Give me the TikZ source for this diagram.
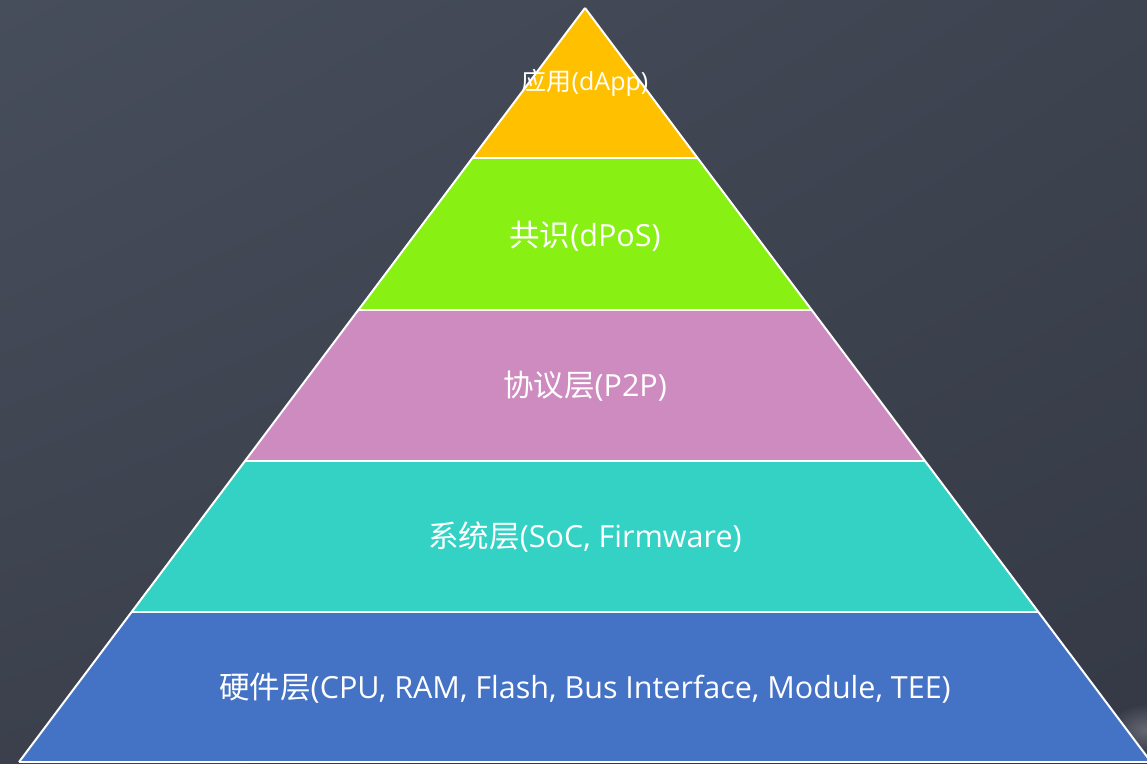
\documentclass[tikz,border=0pt]{standalone}
\usepackage{fontspec}
\setmainfont{Open Sans}
\newfontfamily\cjk{Noto Sans CJK SC}
\usetikzlibrary{calc,shadings}
\definecolor{bgA}{HTML}{474E5B}
\definecolor{bgB}{HTML}{3E4350}
\definecolor{bgC}{HTML}{3C404D}
\definecolor{bgD}{HTML}{353946}
\definecolor{layA}{HTML}{FFC000}
\definecolor{layB}{HTML}{88F012}
\definecolor{layC}{HTML}{CE8BC0}
\definecolor{layD}{HTML}{33D2C5}
\definecolor{layE}{HTML}{4472C4}
\tikzset{
  layer/.style={draw=white, line width=2pt, line join=miter},
  lbl/.style={text=white, inner sep=0pt, font=\fontsize{30.5}{34}\selectfont},
  lblsmall/.style={text=white, inner sep=0pt, font=\fontsize{25}{29}\selectfont}
}
\begin{document}
\begin{tikzpicture}[x=1pt,y=-1pt]
\useasboundingbox (0,0) rectangle (1147,763);
\shade[upper left=bgA, upper right=bgB, lower left=bgC, lower right=bgD] (0,0) rectangle (1147,763);
\begin{scope}
\clip (0,0) rectangle (1147,763);
\shade[inner color=white!70!bgD, outer color=bgD, opacity=0.35] (1147,730) ellipse (40 and 26);
\end{scope}
% corner coordinates
\coordinate (apex) at (585,8);
\coordinate (l1) at (472.4,158); \coordinate (r1) at (697.6,158);
\coordinate (l2) at (358.3,310); \coordinate (r2) at (811.7,310);
\coordinate (l3) at (244.9,461); \coordinate (r3) at (925.1,461);
\coordinate (l4) at (131.6,612); \coordinate (r4) at (1038.4,612);
\coordinate (l5) at (19,762);    \coordinate (r5) at (1151,762);
\begin{scope}
\clip (0,0) rectangle (1147,763);
\fill[layE] (l4) -- (r4) -- (r5) -- (l5) -- cycle;
\fill[layD] (l3) -- (r3) -- (r4) -- (l4) -- cycle;
\fill[layC] (l2) -- (r2) -- (r3) -- (l3) -- cycle;
\fill[layB] (l1) -- (r1) -- (r2) -- (l2) -- cycle;
\fill[layA] (apex) -- (r1) -- (l1) -- cycle;
\draw[layer] (apex) -- (l5) (apex) -- (r5);
\draw[layer] (l1) -- (r1) (l2) -- (r2) (l3) -- (r3) (l4) -- (r4) (l5) -- (r5);
\end{scope}
\node[lblsmall] (t1) at (585,83) {\cjk 应用\rmfamily(dApp)};
\node[lbl] (t2) at (585,236) {\cjk 共识\rmfamily(dPoS)};
\node[lbl] (t3) at (585,386) {\cjk 协议层\rmfamily(P2P)};
\node[lbl] (t4) at (585,537) {\cjk 系统层\rmfamily(SoC, Firmware)};
\node[lbl] (t5) at (585,688) {\cjk 硬件层\rmfamily(CPU, RAM, Flash, Bus Interface, Module, TEE)};
\end{tikzpicture}
\end{document}
